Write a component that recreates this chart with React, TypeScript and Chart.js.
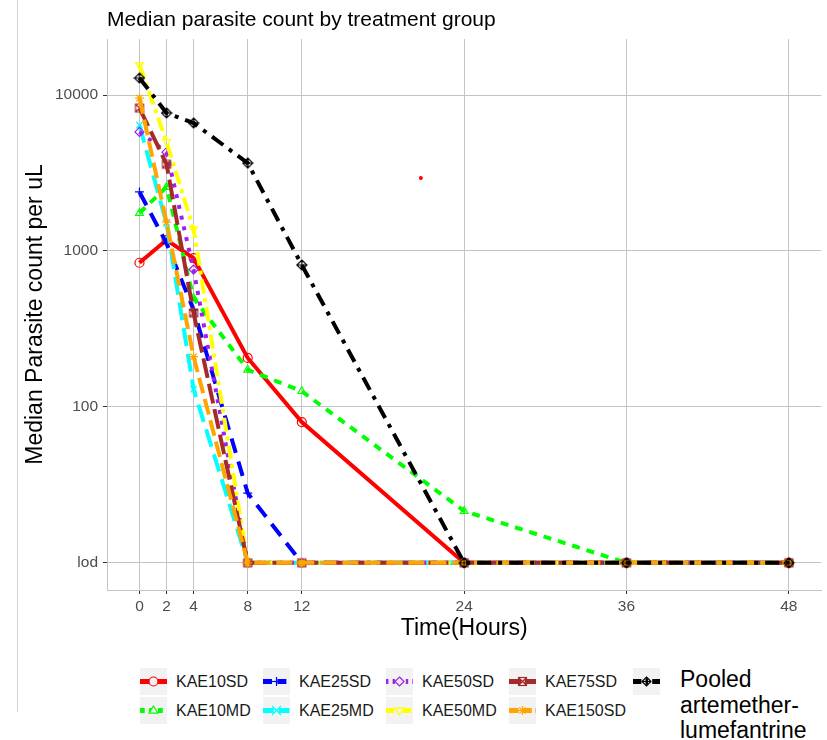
import React, { useEffect, useRef } from 'react';
import { Chart, registerables } from 'chart.js';

Chart.register(...registerables);

// ---------- data ----------
const times = [0, 2, 4, 8, 12, 24, 36, 48];
const seriesNames = ['KAE10SD', 'KAE10MD', 'KAE25SD', 'KAE25MD', 'KAE50SD', 'KAE50MD', 'KAE75SD', 'KAE150SD', 'Pooled artemether-lumefantrine'];
const kae10sd = [840, 1175, 900, 206, 80, 10, 10, 10];
const kae10md = [1750, 2570, 500, 173, 126, 21.5, 10, 10];
const kae25sd = [2390, 1120, 420, 28, 10, 10, 10, 10];
const kae25md = [6400, 1500, 130, 10, 10, 10, 10, 10];
const kae50sd = [5800, 4300, 760, 10, 10, 10, 10, 10];
const kae50md = [15600, 5000, 1380, 10, 10, 10, 10, 10];
const kae75sd = [8250, 3600, 400, 10, 10, 10, 10, 10];
const kae150sd = [9550, 1530, 210, 10, 10, 10, 10, 10];
const pooledAL = [12850, 7670, 6610, 3660, 813, 10, 10, 10];
const extraTime = [20.8];
const extraValue = [2940];
const xTicks = [0, 2, 4, 8, 12, 24, 36, 48];
const yTicks = [10, 100, 1000, 10000];
const yTickLabels = ['lod', '100', '1000', '10000'];

const seriesValues = [kae10sd, kae10md, kae25sd, kae25md, kae50sd, kae50md, kae75sd, kae150sd, pooledAL];

// ---------- styles ----------
const colors = ['#ff0000', '#00ff00', '#0000ff', '#00ffff', '#a020f0', '#ffff00', '#a52a2a', '#ffa500', '#000000'];
const dashes: number[][] = [[], [8, 7], [15, 9], [18, 8], [4, 7], [14, 5, 4, 5], [20, 6], [16, 6], [14, 7, 4, 7]];
const markers = ['circle', 'triUp', 'plus', 'x', 'diamond', 'triDown', 'squareX', 'asterisk', 'diamondPlus'];

const FONT = '"Liberation Sans", Arial, Helvetica, sans-serif';

function makeMarker(kind: string, color: string): any {
  const c = document.createElement('canvas');
  const s = 12;
  c.width = s; c.height = s;
  const ctx = c.getContext('2d')!;
  ctx.strokeStyle = color;
  ctx.lineWidth = 1.2;
  const m = s / 2;
  const r = 4.5;
  ctx.beginPath();
  if (kind === 'squareX') {
    ctx.rect(m - 4, m - 4, 8, 8);
    ctx.moveTo(m - 4, m - 4); ctx.lineTo(m + 4, m + 4);
    ctx.moveTo(m + 4, m - 4); ctx.lineTo(m - 4, m + 4);
  } else if (kind === 'diamondPlus') {
    ctx.moveTo(m, m - r - 0.5); ctx.lineTo(m + r + 0.5, m); ctx.lineTo(m, m + r + 0.5); ctx.lineTo(m - r - 0.5, m); ctx.closePath();
    ctx.moveTo(m, m - r - 0.5); ctx.lineTo(m, m + r + 0.5);
    ctx.moveTo(m - r - 0.5, m); ctx.lineTo(m + r + 0.5, m);
  }
  ctx.stroke();
  return c;
}

function chartPointStyle(kind: string, color: string): any {
  switch (kind) {
    case 'circle': return 'circle';
    case 'triUp': return 'triangle';
    case 'plus': return 'cross';
    case 'x': return 'crossRot';
    case 'diamond': return 'rectRot';
    case 'triDown': return 'triangle';
    case 'asterisk': return 'star';
    default: return makeMarker(kind, color);
  }
}

function KeyMarker({ kind, color }: { kind: string; color: string }) {
  const m = 13.5;
  const r = 4.5;
  const p = { fill: 'none', stroke: color, strokeWidth: 1.2 } as any;
  const tri = (up: boolean) => {
    const h = r * 1.5;
    const pts = up
      ? `${m},${m - r} ${m + h * 0.66},${m + r * 0.6} ${m - h * 0.66},${m + r * 0.6}`
      : `${m},${m + r} ${m + h * 0.66},${m - r * 0.6} ${m - h * 0.66},${m - r * 0.6}`;
    return <polygon points={pts} {...p} fill="#f2f2f2" />;
  };
  switch (kind) {
    case 'circle': return <circle cx={m} cy={m} r={r} {...p} fill="#f2f2f2" />;
    case 'triUp': return tri(true);
    case 'triDown': return tri(false);
    case 'plus': return <g {...p}><line x1={m - r} y1={m} x2={m + r} y2={m} /><line x1={m} y1={m - r} x2={m} y2={m + r} /></g>;
    case 'x': return <g {...p}><line x1={m - r} y1={m - r} x2={m + r} y2={m + r} /><line x1={m + r} y1={m - r} x2={m - r} y2={m + r} /></g>;
    case 'diamond': return <polygon points={`${m},${m - r} ${m + r},${m} ${m},${m + r} ${m - r},${m}`} {...p} fill="#f2f2f2" />;
    case 'squareX': return <g {...p}><rect x={m - 4} y={m - 4} width={8} height={8} /><line x1={m - 4} y1={m - 4} x2={m + 4} y2={m + 4} /><line x1={m + 4} y1={m - 4} x2={m - 4} y2={m + 4} /></g>;
    case 'asterisk': return <g {...p}><line x1={m - r} y1={m} x2={m + r} y2={m} /><line x1={m} y1={m - r} x2={m} y2={m + r} /><line x1={m - 3.2} y1={m - 3.2} x2={m + 3.2} y2={m + 3.2} /><line x1={m + 3.2} y1={m - 3.2} x2={m - 3.2} y2={m + 3.2} /></g>;
    case 'diamondPlus': return <g {...p}><polygon points={`${m},${m - r} ${m + r},${m} ${m},${m + r} ${m - r},${m}`} /><line x1={m - r} y1={m} x2={m + r} y2={m} /><line x1={m} y1={m - r} x2={m} y2={m + r} /></g>;
  }
  return null;
}

function LegendKey({ idx }: { idx: number }) {
  return (
    <svg width={27} height={27} style={{ display: 'block' }}>
      <rect x={0} y={0} width={27} height={27} fill="#f2f2f2" />
      <line x1={0} y1={13.5} x2={27} y2={13.5} stroke={colors[idx]} strokeWidth={5}
        strokeDasharray={dashes[idx].length ? dashes[idx].map((d) => d * 0.6).join(' ') : undefined} />
      <KeyMarker kind={markers[idx]} color={colors[idx]} />
    </svg>
  );
}

export default function App() {
  const canvasRef = useRef<HTMLCanvasElement | null>(null);

  useEffect(() => {
    const canvas = canvasRef.current;
    if (!canvas) return;
    const datasets: any[] = seriesValues.map((vals, i) => ({
      label: seriesNames[i],
      data: times.map((t, j) => ({ x: t, y: vals[j] })),
      borderColor: colors[i],
      backgroundColor: colors[i],
      borderWidth: 4,
      borderDash: dashes[i],
      borderCapStyle: 'butt',
      tension: 0,
      fill: false,
      pointStyle: chartPointStyle(markers[i], colors[i]),
      pointRotation: markers[i] === 'triDown' ? 180 : 0,
      pointRadius: 4.5,
      pointBorderWidth: 1.2,
      pointBorderColor: colors[i],
      pointBackgroundColor: 'rgba(0,0,0,0)',
      order: 10 - i,
    }));
    datasets.push({
      label: 'extra',
      data: extraTime.map((t, j) => ({ x: t, y: extraValue[j] })),
      showLine: false,
      pointStyle: 'circle',
      pointRadius: 2,
      pointBorderWidth: 0,
      pointBackgroundColor: '#ff0000',
      borderColor: '#ff0000',
      order: 0,
    });

    const chart = new Chart(canvas, {
      type: 'line',
      data: { datasets },
      options: {
        responsive: false,
        animation: false,
        events: [],
        layout: { padding: { top: 39, right: 4, left: 0, bottom: 0 } },
        plugins: { legend: { display: false }, tooltip: { enabled: false }, title: { display: false } },
        scales: {
          x: {
            type: 'linear',
            min: -2.4,
            max: 50.4,
            afterBuildTicks: (s: any) => { s.ticks = xTicks.map((v) => ({ value: v })); },
            afterFit: (s: any) => { s.height = 60; },
            ticks: {
              font: { family: FONT, size: 15.5 },
              color: '#4d4d4d',
              padding: 3,
              autoSkip: false,
              maxRotation: 0,
              callback: (v: any) => String(v),
            },
            grid: { color: '#c4c4c4', lineWidth: 1, tickLength: 4, tickColor: '#333333' },
            border: { display: true, color: '#c4c4c4', width: 1 },
            title: { display: true, text: 'Time(Hours)', font: { family: FONT, size: 23 }, color: '#000000', padding: { top: 0, bottom: 8 } },
          },
          y: {
            type: 'logarithmic',
            min: 6.7,
            max: 22860,
            afterBuildTicks: (s: any) => { s.ticks = yTicks.map((v) => ({ value: v })); },
            afterFit: (s: any) => { s.width = 107; },
            ticks: {
              font: { family: FONT, size: 15.5 },
              color: '#4d4d4d',
              padding: 5,
              autoSkip: false,
              callback: (v: any) => {
                const k = yTicks.indexOf(Number(v));
                return k >= 0 ? yTickLabels[k] : '';
              },
            },
            grid: { color: '#c4c4c4', lineWidth: 1, tickLength: 4, tickColor: '#333333' },
            border: { display: true, color: '#c4c4c4', width: 1 },
            title: { display: true, text: 'Median Parasite count per uL', font: { family: FONT, size: 23 }, color: '#000000', padding: { top: 22, bottom: 0 } },
          },
        },
      } as any,
    });
    return () => chart.destroy();
  }, []);

  const colX = [140, 263, 386, 509];
  const rowY = [668, 697];
  const labelStyle: React.CSSProperties = { position: 'absolute', fontSize: 16, lineHeight: '27px', color: '#1a1a1a', whiteSpace: 'nowrap' };

  return (
    <div style={{ position: 'absolute', left: 0, top: 0, width: 827, height: 740, background: '#ffffff', fontFamily: FONT, overflow: 'hidden' }}>
      <div style={{ position: 'absolute', left: 17, top: 0, width: 1, height: 712, background: '#d4d4d4' }} />
      <canvas ref={canvasRef} width={827} height={650} style={{ position: 'absolute', left: 0, top: 0, width: 827, height: 650 }} />
      <div style={{ position: 'absolute', left: 107, top: 7, fontSize: 21, lineHeight: '24px', color: '#000000', whiteSpace: 'nowrap' }}>
        Median parasite count by treatment group
      </div>
      {seriesNames.slice(0, 8).map((name, i) => {
        const col = Math.floor(i / 2);
        const row = i % 2;
        return (
          <React.Fragment key={name}>
            <div style={{ position: 'absolute', left: colX[col], top: rowY[row] }}>
              <LegendKey idx={i} />
            </div>
            <div style={{ ...labelStyle, left: colX[col] + 36, top: rowY[row] }}>{name}</div>
          </React.Fragment>
        );
      })}
      <div style={{ position: 'absolute', left: 633, top: rowY[0] }}>
        <LegendKey idx={8} />
      </div>
      <div style={{ position: 'absolute', left: 680, top: 667, fontSize: 23, lineHeight: '25.5px', color: '#000000', width: 140 }}>
        Pooled<br />artemether-<br />lumefantrine
      </div>
    </div>
  );
}
